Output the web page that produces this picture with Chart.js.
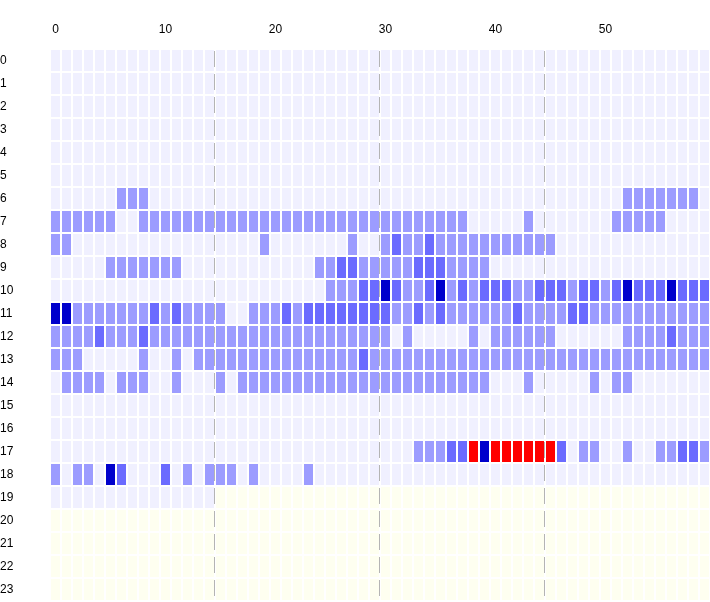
<!DOCTYPE html>
<html><head><meta charset="utf-8">
<script src="https://cdn.jsdelivr.net/npm/chart.js@4"></script>
<style>html,body{margin:0;padding:0;background:#fff}#w{width:710px;height:602px}</style>
</head><body><div id="w"><canvas id="c"></canvas></div>
<script>
const hours = Array.from({length:24},(_,i)=>String(i));
const minuteTicks = [0,10,20,30,40,50];
const quarterMarks = [15,30,45];
// per hour: 60 minute cells; 0 none, 1 low, 2 mid, 3 high, r alert, y future
const levels = [
"000000000000000000000000000000000000000000000000000000000000",
"000000000000000000000000000000000000000000000000000000000000",
"000000000000000000000000000000000000000000000000000000000000",
"000000000000000000000000000000000000000000000000000000000000",
"000000000000000000000000000000000000000000000000000000000000",
"000000000000000000000000000000000000000000000000000000000000",
"000000111000000000000000000000000000000000000000000011111110",
"111111001111111111111111111111111111110000010000000111110000",
"110000000000000000010000000100121121111111111100000000000000",
"000001111111000000000000112211111222111100000000000000000000",
"000000000000000000000000011122321123121222112221221232223222",
"331111111212111100111212222222211212111111211112211111111111",
"111121112111111111111111111111101000001011111100000011112111",
"111000001001011111111111111121111111111111111111111111111111",
"011110111001000101111111111111111111111100010000010110000000",
"000000000000000000000000000000000000000000000000000000000000",
"000000000000000000000000000000000000000000000000000000000000",
"00000000000000000000000000000000011122r3rrrrrr20110010011221",
"101103200020101110100001000000000000000000000000000000000000",
"000000000000000yyyyyyyyyyyyyyyyyyyyyyyyyyyyyyyyyyyyyyyyyyyyy",
"yyyyyyyyyyyyyyyyyyyyyyyyyyyyyyyyyyyyyyyyyyyyyyyyyyyyyyyyyyyy",
"yyyyyyyyyyyyyyyyyyyyyyyyyyyyyyyyyyyyyyyyyyyyyyyyyyyyyyyyyyyy",
"yyyyyyyyyyyyyyyyyyyyyyyyyyyyyyyyyyyyyyyyyyyyyyyyyyyyyyyyyyyy",
"yyyyyyyyyyyyyyyyyyyyyyyyyyyyyyyyyyyyyyyyyyyyyyyyyyyyyyyyyyyy"
];
const palette = {'0':'#f0f0ff','1':'#9c9cff','2':'#6b6bff','3':'#0000cc','r':'#ff0000','y':'#fefff0'};

const datasets = [];
for (let m=0;m<60;m++){
  datasets.push({
    data: hours.map(()=>1),
    backgroundColor: ctx => palette[levels[ctx.dataIndex][m]],
    borderColor:'#ffffff',
    borderWidth:{left:1,right:1,top:0,bottom:0},
    borderSkipped:false,
    categoryPercentage:1,
    barPercentage:21/23,
    stack:'s'
  });
}
const dashPlugin = {
  id:'dash',
  afterDatasetsDraw(chart){
    const {ctx, chartArea:a, scales:{x}} = chart;
    ctx.save();
    ctx.strokeStyle='#b4b4b4'; ctx.lineWidth=1; ctx.setLineDash([16,7]);
    quarterMarks.forEach(q=>{
      const px=Math.round(x.getPixelForValue(q))-0.5;
      ctx.beginPath(); ctx.lineDashOffset=-2; ctx.moveTo(px,a.top); ctx.lineTo(px,a.bottom+1); ctx.stroke();
    });
    ctx.restore();
  }
};
new Chart(document.getElementById('c'),{
  type:'bar',
  data:{labels:hours,datasets},
  plugins:[dashPlugin],
  options:{
    indexAxis:'y',responsive:true,maintainAspectRatio:false,animation:false,
    layout:{padding:{top:0,right:0,bottom:1,left:0}},
    plugins:{legend:{display:false},tooltip:{enabled:false}},
    scales:{
      x:{type:'linear',position:'top',min:0,max:60,stacked:true,
        grid:{display:false},border:{display:false},
        afterBuildTicks:s=>{s.ticks=minuteTicks.map(v=>({value:v+0.5}));},
        afterFit:s=>{s.height=49;s.paddingLeft=0;s.paddingRight=0;},
        ticks:{color:'#000',font:{family:'Liberation Sans',size:12},padding:4,maxRotation:0,
          callback:v=>String(Math.round(v-0.5))}},
      y:{stacked:true,grid:{display:false},border:{display:false},
        afterFit:s=>{s.width=50;s.paddingTop=0;s.paddingBottom=0;},
        ticks:{color:'#000',font:{family:'Liberation Sans',size:12},crossAlign:'far',padding:0}}
    }
  }
});
</script></body></html>
